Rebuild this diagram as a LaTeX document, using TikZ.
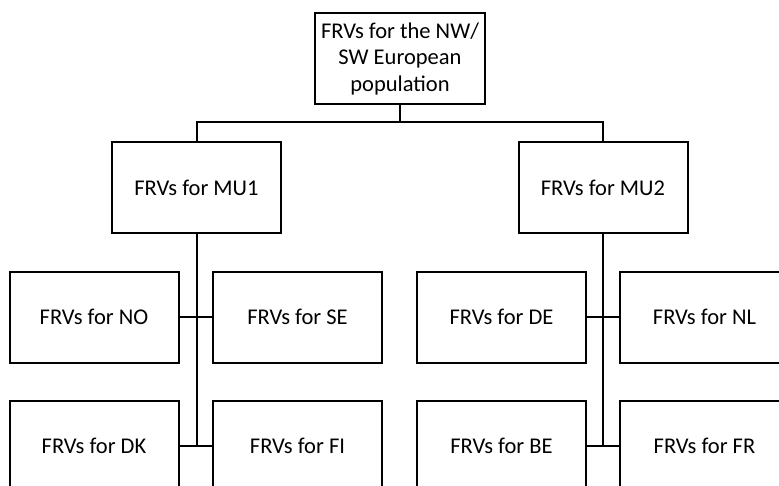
\documentclass[tikz,border=0pt]{standalone}
\usepackage{fontspec}
\setmainfont{Carlito}
\begin{document}
\begin{tikzpicture}[x=1pt,y=-1pt,
  box/.style={draw=black, line width=2pt, fill=white, minimum width=169pt, minimum height=91pt, inner sep=2pt, font=\fontsize{22.5}{26.5}\selectfont, text=black, align=center},
  conn/.style={draw=black, line width=2pt}]
\useasboundingbox (0,0) rectangle (779,485);
\clip (0,0) rectangle (779,485);
\fill[white] (0,0) rectangle (779,485);
\node[box, minimum width=170pt] (top) at (400,58.5) {FRVs for the NW/\\SW European\\population};
\node[box] (mu1) at (196.5,187.5) {FRVs for MU1};
\node[box] (mu2) at (603,187.5) {FRVs for MU2};
\node[box] (no) at (94,317) {FRVs for NO};
\node[box] (se) at (297.5,317) {FRVs for SE};
\node[box] (dk) at (94,446) {FRVs for DK};
\node[box] (fi) at (297.5,446) {FRVs for FI};
\node[box] (de) at (501.5,317) {FRVs for DE};
\node[box] (nl) at (704.5,317) {FRVs for NL};
\node[box] (be) at (501.5,446) {FRVs for BE};
\node[box] (fr) at (704.5,446) {FRVs for FR};
\coordinate (j) at (400,123);
\draw[conn] (top.south) -- (j);
\draw[conn] (mu1.north) -- ++(0,-19) -| (mu2.north);
\draw[conn] (mu1.south) -- (mu1.south |- dk.east);
\draw[conn] (mu2.south) -- (mu2.south |- be.east);
\draw[conn] (no.east) -- (se.west);
\draw[conn] (dk.east) -- (fi.west);
\draw[conn] (de.east) -- (nl.west);
\draw[conn] (be.east) -- (fr.west);
\end{tikzpicture}
\end{document}
